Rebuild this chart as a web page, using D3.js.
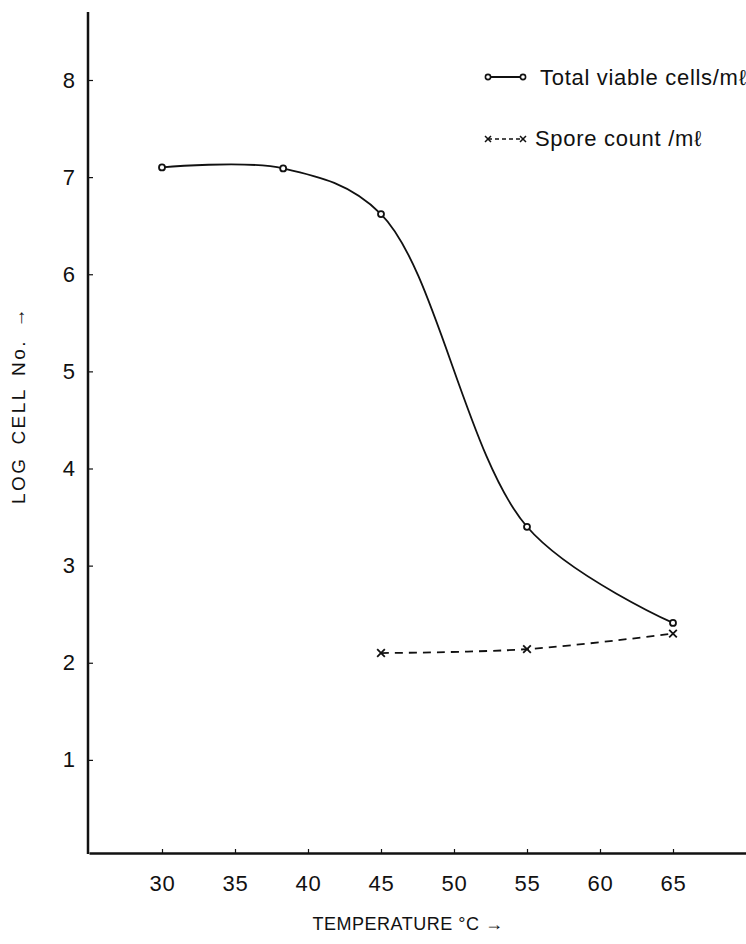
<!DOCTYPE html>
<html>
<head>
<meta charset="utf-8">
<script src="https://cdn.jsdelivr.net/npm/d3@7"></script>
<style>
	body { margin: 0; background: #fff; }
	svg text { font-family: 'Liberation Sans', Arial, sans-serif; fill: #111; }
</style>
</head>
<body>
<svg id="viz" width="746" height="944"></svg>
<script>
// temperature (°C) and log cell numbers
var tempTotal = [ 30, 38.3, 45, 55, 65 ];
var logTotal = [ 7.1, 7.09, 6.62, 3.4, 2.41 ];

var tempSpore = [ 45, 55, 65 ];
var logSpore = [ 2.1, 2.14, 2.3 ];

var xTicks = [ 30, 35, 40, 45, 50, 55, 60, 65 ];
var yTicks = [ 1, 2, 3, 4, 5, 6, 7, 8 ];

var svg = d3.select( '#viz' );

var xScale = d3.scaleLinear().domain( [ 25, 70 ] ).range( [ 89, 746 ] );
var yScale = d3.scaleLinear().domain( [ 0, 8 ] ).range( [ 857, 80 ] );

var axisY = 853;

// axes
var xAxis = svg.append( 'g' )
	.attr( 'transform', 'translate(0,' + axisY + ')' )
	.call( d3.axisBottom( xScale ).tickValues( xTicks ).tickSize( -4 ).tickPadding( 22 ).tickSizeOuter( 0 ) );
xAxis.select( '.domain' ).attr( 'stroke', '#111' ).attr( 'stroke-width', 2.5 );
xAxis.selectAll( '.tick line' ).attr( 'stroke', '#111' ).attr( 'stroke-width', 1.2 );
xAxis.selectAll( '.tick text' ).attr( 'font-size', 22 ).attr( 'fill', '#111' ).attr( 'letter-spacing', 0.8 );

var yAxis = svg.append( 'g' )
	.attr( 'transform', 'translate(88,0)' )
	.call( d3.axisLeft( yScale ).tickValues( yTicks ).tickSize( -5 ).tickPadding( 13 ).tickSizeOuter( 0 ) );
yAxis.select( '.domain' ).remove();
yAxis.selectAll( '.tick line' ).attr( 'stroke', '#111' ).attr( 'stroke-width', 1.2 );
yAxis.selectAll( '.tick text' ).attr( 'font-size', 22 ).attr( 'fill', '#111' );

svg.append( 'line' )
	.attr( 'x1', 88 ).attr( 'x2', 88 )
	.attr( 'y1', yScale( 8.7 ) ).attr( 'y2', axisY + 1 )
	.attr( 'stroke', '#111' ).attr( 'stroke-width', 2.5 );

// axis titles
svg.append( 'text' )
	.attr( 'x', 408 ).attr( 'y', 930 )
	.attr( 'text-anchor', 'middle' )
	.attr( 'font-size', 18 )
	.attr( 'letter-spacing', 0.5 )
	.text( 'TEMPERATURE °C →' );

svg.append( 'text' )
	.attr( 'transform', 'translate(25,504) rotate(-90)' )
	.attr( 'text-anchor', 'start' )
	.attr( 'font-size', 19 )
	.attr( 'letter-spacing', 2.5 )
	.attr( 'word-spacing', 4 )
	.text( 'LOG CELL No. →' );

// lines
var total = tempTotal.map( function ( t, i ) { return [ t, logTotal[i] ]; } );
var spore = tempSpore.map( function ( t, i ) { return [ t, logSpore[i] ]; } );

var line = d3.line()
	.x( function ( d ) { return xScale( d[0] ); } )
	.y( function ( d ) { return yScale( d[1] ); } )
	.curve( d3.curveCatmullRom.alpha( 0.5 ) );

svg.append( 'path' )
	.attr( 'd', line( total ) )
	.attr( 'fill', 'none' ).attr( 'stroke', '#111' ).attr( 'stroke-width', 1.8 );

svg.append( 'path' )
	.attr( 'd', line( spore ) )
	.attr( 'fill', 'none' ).attr( 'stroke', '#111' ).attr( 'stroke-width', 1.8 )
	.attr( 'stroke-dasharray', '8,6' );

svg.selectAll( 'circle.pt' )
	.data( total )
	.enter()
	.append( 'circle' )
	.classed( 'pt', true )
	.attr( 'cx', function ( d ) { return xScale( d[0] ); } )
	.attr( 'cy', function ( d ) { return yScale( d[1] ); } )
	.attr( 'r', 3 )
	.attr( 'fill', '#fff' ).attr( 'stroke', '#111' ).attr( 'stroke-width', 1.8 );

var cross = d3.symbol().type( d3.symbolX ).size( 40 );
svg.selectAll( 'path.x' )
	.data( spore )
	.enter()
	.append( 'path' )
	.classed( 'x', true )
	.attr( 'd', cross )
	.attr( 'transform', function ( d ) { return 'translate(' + xScale( d[0] ) + ',' + yScale( d[1] ) + ')'; } )
	.attr( 'fill', 'none' ).attr( 'stroke', '#111' ).attr( 'stroke-width', 1.8 );

// legend
var leg = svg.append( 'g' );
leg.append( 'line' )
	.attr( 'x1', 488 ).attr( 'x2', 523 ).attr( 'y1', 77 ).attr( 'y2', 77 )
	.attr( 'stroke', '#111' ).attr( 'stroke-width', 1.8 );
leg.selectAll( 'circle' )
	.data( [ 488, 523 ] )
	.enter()
	.append( 'circle' )
	.attr( 'cx', function ( d ) { return d; } ).attr( 'cy', 77 ).attr( 'r', 2.6 )
	.attr( 'fill', '#fff' ).attr( 'stroke', '#111' ).attr( 'stroke-width', 1.6 );
leg.append( 'text' )
	.attr( 'x', 540 ).attr( 'y', 85 )
	.attr( 'font-size', 22 )
	.attr( 'letter-spacing', 0.7 )
	.text( 'Total viable cells/mℓ' );

leg.append( 'line' )
	.attr( 'x1', 488 ).attr( 'x2', 523 ).attr( 'y1', 139 ).attr( 'y2', 139 )
	.attr( 'stroke', '#111' ).attr( 'stroke-width', 1.5 ).attr( 'stroke-dasharray', '4,3' );
leg.selectAll( 'path' )
	.data( [ 488, 523 ] )
	.enter()
	.append( 'path' )
	.attr( 'd', d3.symbol().type( d3.symbolX ).size( 25 ) )
	.attr( 'transform', function ( d ) { return 'translate(' + d + ',139)'; } )
	.attr( 'fill', 'none' ).attr( 'stroke', '#111' ).attr( 'stroke-width', 1.5 );
leg.append( 'text' )
	.attr( 'x', 535 ).attr( 'y', 146 )
	.attr( 'font-size', 22 )
	.attr( 'letter-spacing', 0.7 )
	.text( 'Spore count /mℓ' );
</script>
</body>
</html>
